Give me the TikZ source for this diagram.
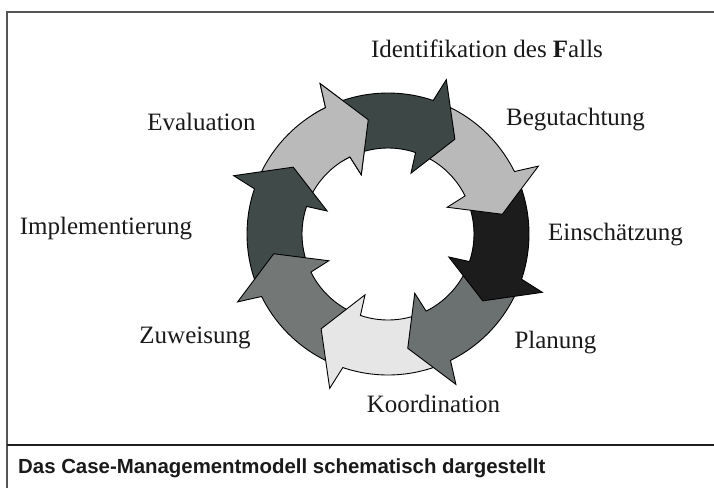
\documentclass[tikz,border=0pt]{standalone}
\usepackage{fontspec}
\setmainfont{Liberation Serif}
\newfontfamily\capfont{Liberation Sans}
\definecolor{cIdent}{HTML}{3D4846}
\definecolor{cBegut}{HTML}{B9B9B9}
\definecolor{cEinsch}{HTML}{1C1C1C}
\definecolor{cPlan}{HTML}{6B7070}
\definecolor{cKoord}{HTML}{E6E6E6}
\definecolor{cZuw}{HTML}{737877}
\definecolor{cImpl}{HTML}{404A48}
\definecolor{cEval}{HTML}{BABABA}
\definecolor{frameline}{HTML}{555555}
\definecolor{txt}{HTML}{1A1A1A}
\newcommand{\Ro}{141pt}
\newcommand{\Ri}{86pt}
\newcommand{\Rbo}{165pt}
\newcommand{\Rbi}{65pt}
\newcommand{\Rt}{116pt}
% #1 = barb angle, #2 = fill colour
\newcommand{\cmarrow}[2]{%
  \filldraw[arrowline, fill=#2]
    ({#1+42}:\Ro) arc[start angle={#1+42}, end angle={#1+2}, radius=\Ro]
    -- (#1:\Rbo) -- ({#1-14.5}:\Rt) -- (#1:\Rbi)
    -- ({#1+2}:\Ri) arc[start angle={#1+2}, end angle={#1+42}, radius=\Ri]
    -- cycle;}
\begin{document}
\begin{tikzpicture}[x=1pt,y=1pt,
  arrowline/.style={draw=black, line width=0.9pt, line join=miter},
  lbl/.style={font=\fontsize{25}{29}\selectfont, text=txt, anchor=base, inner sep=0pt},
  captext/.style={font=\capfont\bfseries\fontsize{20.4}{24}\selectfont, text=txt, anchor=base west, inner sep=0pt}]
\useasboundingbox (0,0) rectangle (714,-488);
\fill[white] (0,0) rectangle (714,-488);
% frame
\draw[frameline, line width=1.5pt] (7,-488) -- (7,-12) -- (714,-12);
\draw[black!88, line width=2pt] (7,-445) -- (714,-445);
% cycle of arrows
\begin{scope}[shift={(388,-234)}]
  \cmarrow{-245.7}{cEval}
  \cmarrow{-200.7}{cImpl}
  \cmarrow{-155.7}{cZuw}
  \cmarrow{-110.7}{cKoord}
  \cmarrow{-65.7}{cPlan}
  \cmarrow{-20.7}{cEinsch}
  \cmarrow{24.3}{cBegut}
  \cmarrow{69.3}{cIdent}
  % head of the last arrow over the tail of the first
  \begin{scope}
    \clip (0,0) -- (122.3:200pt) arc[start angle=122.3, end angle=92, radius=200pt] -- cycle;
    \cmarrow{114.3}{cEval}
  \end{scope}
\end{scope}
% labels
\node[lbl] (ident) at (487,-57) {Identifikation des \textbf{F}alls};
\node[lbl] (begut) at (575.5,-125) {Begutachtung};
\node[lbl] (einsch) at (615.5,-240) {Einschätzung};
\node[lbl] (plan) at (555.5,-348) {Planung};
\node[lbl] (koord) at (433.5,-412) {Koordination};
\node[lbl] (zuw) at (195,-343) {Zuweisung};
\node[lbl] (impl) at (106,-234) {Implementierung};
\node[lbl] (eval) at (201.5,-130) {Evaluation};
% caption
\node[captext] (caption) at (18,-473) {Das Case-Managementmodell schematisch dargestellt};
\end{tikzpicture}
\end{document}
